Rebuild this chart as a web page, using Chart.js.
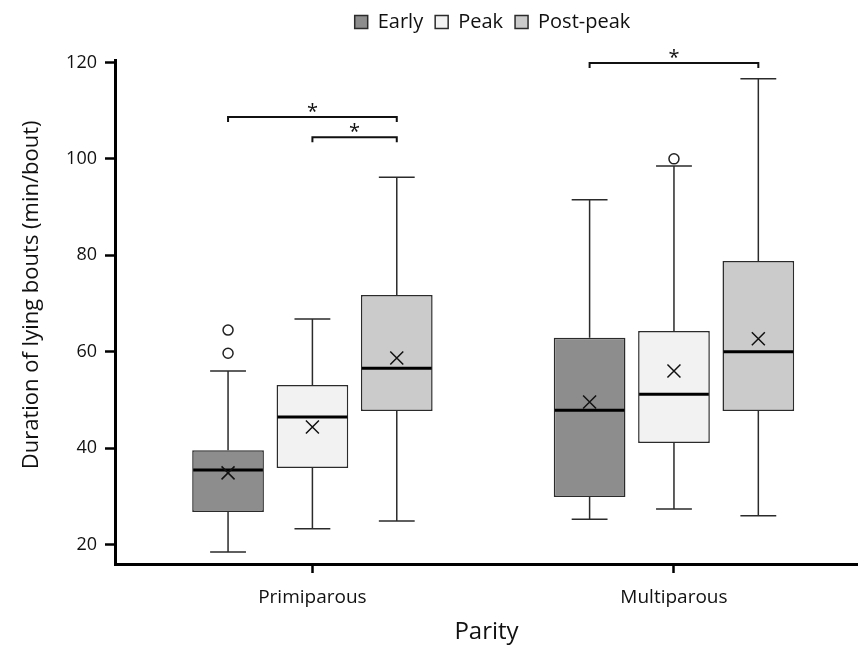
<!DOCTYPE html>
<html>
<head>
<meta charset="utf-8">
<script src="https://cdn.jsdelivr.net/npm/chart.js@4.4.1/dist/chart.umd.min.js"></script>
<style>
html, body { margin: 0; padding: 0; background: #fff; }
#wrap { width: 858px; height: 648px; }
</style>
</head>
<body>
<div id="wrap"><canvas id="chart"></canvas></div>
<script>
var categories = ['Primiparous', 'Multiparous'];
var phases = ['Early', 'Peak', 'Post-peak'];
var colors = ['#8d8d8d', '#f2f2f2', '#cbcbcb'];

// one row per phase (Early, Peak, Post-peak), one column per parity
var lowWhisker  = [[18.5, 25.3], [23.3, 27.4], [24.9, 26.0]];
var q1          = [[26.8, 29.9], [35.9, 41.1], [47.7, 47.7]];
var median      = [[35.5, 47.9], [46.5, 51.2], [56.6, 60.0]];
var q3          = [[39.6, 62.9], [53.1, 64.3], [71.8, 78.8]];
var highWhisker = [[56.0, 91.5], [66.8, 98.5], [96.2, 116.6]];
var mean        = [[34.9, 49.6], [44.4, 56.0], [58.7, 62.7]];
var outliers    = [[[64.5, 59.7], []], [[], [100.0]], [[], []]];

var yTicks = [20, 40, 60, 80, 100, 120];

// significance brackets: parity, first phase, last phase, level
var sigParity = [0, 0, 1];
var sigFrom   = [0, 1, 0];
var sigTo     = [2, 2, 2];
var sigLevel  = [108.7, 104.5, 119.9];

var FONT = "'Open Sans', 'DejaVu Sans', sans-serif";

// legend keeps a fixed band above the plot
var legendBand = {
	id: 'legendBand',
	beforeInit: function(chart) {
		var fit = chart.legend.fit;
		chart.legend.fit = function() {
			fit.call(chart.legend);
			this.height = 60;
		};
	},
	afterLayout: function(chart) {
		chart.legend.left += 6;
		chart.legend.right += 6;
	}
};

var boxExtras = {
	id: 'boxExtras',
	afterDatasetsDraw: function(chart) {
		var ctx = chart.ctx;
		var ys = chart.scales.y;
		ctx.save();
		chart.data.datasets.forEach(function(ds, d) {
			var meta = chart.getDatasetMeta(d);
			meta.data.forEach(function(bar, i) {
				var x = bar.x;
				var half = bar.width / 2;
				var cap = bar.width / 4;
				var pHi = ys.getPixelForValue(highWhisker[d][i]);
				var pLo = ys.getPixelForValue(lowWhisker[d][i]);
				var pQ1 = ys.getPixelForValue(q1[d][i]);
				var pQ3 = ys.getPixelForValue(q3[d][i]);
				// whiskers
				ctx.strokeStyle = '#2b2b2b';
				ctx.lineWidth = 1.5;
				ctx.beginPath();
				ctx.moveTo(x, pQ3); ctx.lineTo(x, pHi);
				ctx.moveTo(x - cap, pHi); ctx.lineTo(x + cap, pHi);
				ctx.moveTo(x, pQ1); ctx.lineTo(x, pLo);
				ctx.moveTo(x - cap, pLo); ctx.lineTo(x + cap, pLo);
				ctx.stroke();
				// median
				var pMed = ys.getPixelForValue(median[d][i]);
				ctx.strokeStyle = '#000';
				ctx.lineWidth = 3;
				ctx.beginPath();
				ctx.moveTo(x - half + 1, pMed); ctx.lineTo(x + half - 1, pMed);
				ctx.stroke();
				// mean
				var pMean = ys.getPixelForValue(mean[d][i]);
				ctx.strokeStyle = '#111';
				ctx.lineWidth = 1.5;
				ctx.beginPath();
				ctx.moveTo(x - 6.5, pMean - 6.5); ctx.lineTo(x + 6.5, pMean + 6.5);
				ctx.moveTo(x - 6.5, pMean + 6.5); ctx.lineTo(x + 6.5, pMean - 6.5);
				ctx.stroke();
				// outliers
				outliers[d][i].forEach(function(v) {
					ctx.beginPath();
					ctx.arc(x, ys.getPixelForValue(v), 5, 0, Math.PI * 2);
					ctx.fillStyle = '#fff';
					ctx.fill();
					ctx.strokeStyle = '#222';
					ctx.lineWidth = 1.5;
					ctx.stroke();
				});
			});
		});
		// significance brackets
		for (var k = 0; k < sigLevel.length; k++) {
			var x1 = chart.getDatasetMeta(sigFrom[k]).data[sigParity[k]].x;
			var x2 = chart.getDatasetMeta(sigTo[k]).data[sigParity[k]].x;
			var py = ys.getPixelForValue(sigLevel[k]);
			ctx.strokeStyle = '#111';
			ctx.lineWidth = 2;
			ctx.beginPath();
			ctx.moveTo(x1, py + 5); ctx.lineTo(x1, py); ctx.lineTo(x2, py); ctx.lineTo(x2, py + 5);
			ctx.stroke();
			ctx.fillStyle = '#111';
			ctx.font = '20px ' + FONT;
			ctx.textAlign = 'center';
			ctx.textBaseline = 'alphabetic';
			ctx.fillText('*', (x1 + x2) / 2, py + 1);
		}
		ctx.restore();
	}
};

var datasets = phases.map(function(name, d) {
	return {
		label: name,
		data: categories.map(function(c, i) {
			return { x: i, y: [q1[d][i], q3[d][i]] };
		}),
		backgroundColor: colors[d],
		borderColor: '#2b2b2b',
		borderWidth: 1.5,
		borderSkipped: false,
		categoryPercentage: 0.70,
		barPercentage: 0.85
	};
});

var ctx = document.getElementById('chart').getContext('2d');
var myChart = new Chart(ctx, {
	type: 'bar',
	data: { datasets: datasets },
	plugins: [legendBand, boxExtras],
	options: {
		responsive: true,
		maintainAspectRatio: false,
		animation: false,
		layout: { padding: 0 },
		plugins: {
			tooltip: { enabled: false },
			legend: {
				position: 'top',
				fullSize: false,
				labels: {
					font: { family: FONT, size: 20 },
					color: '#111',
					boxWidth: 13,
					boxHeight: 13,
					padding: 12
				}
			}
		},
		scales: {
			x: {
				type: 'linear',
				offset: false,
				bounds: 'data',
				min: -0.546,
				max: 1.509,
				afterBuildTicks: function(s) {
					s.ticks = categories.map(function(c, i) { return { value: i }; });
				},
				afterFit: function(s) { s.height = 84; },
				ticks: {
					callback: function(v) { return categories[v]; },
					font: { family: FONT, size: 19 },
					color: '#111',
					padding: 13,
					maxRotation: 0,
					autoSkip: false
				},
				grid: { offset: false, drawOnChartArea: false, drawTicks: true, tickLength: 9, tickWidth: 2.5, tickColor: '#000' },
				border: { display: true, color: '#000', width: 3 },
				title: { display: true, text: 'Parity', font: { family: FONT, size: 24 }, color: '#111', padding: { top: 0, bottom: 1 } }
			},
			y: {
				min: 16,
				max: 120.5,
				afterBuildTicks: function(s) {
					s.ticks = yTicks.map(function(v) { return { value: v }; });
				},
				afterFit: function(s) { s.width = 115; },
				ticks: { font: { family: FONT, size: 18 }, color: '#111', padding: 8 },
				grid: { drawOnChartArea: false, drawTicks: true, tickLength: 10, tickWidth: 2.5, tickColor: '#000' },
				border: { display: true, color: '#000', width: 3 },
				// leading spaces lift the title a little above the axis centre
				title: { display: true, text: '      Duration of lying bouts (min/bout)', font: { family: FONT, size: 22 }, color: '#111', padding: { top: 19, bottom: 0 } }
			}
		}
	}
});
</script>
</body>
</html>
